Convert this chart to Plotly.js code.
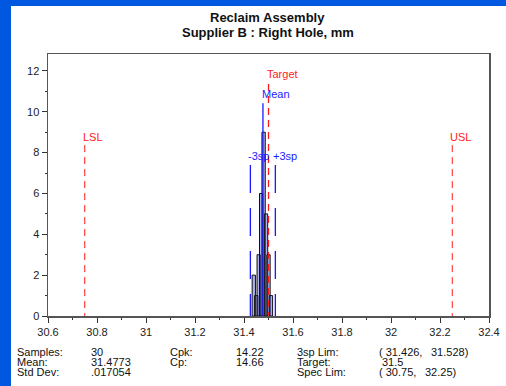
<!DOCTYPE html>
<html>
<head>
<meta charset="utf-8">
<script src="https://cdn.plot.ly/plotly-3.0.1.min.js"></script>
<style>
  html, body { margin: 0; padding: 0; background: #0058e0; width: 506px; height: 386px; overflow: hidden; }
  #chart { position: absolute; left: 11px; top: 6px; width: 495px; height: 380px; background: #fff; }
</style>
</head>
<body>
<div id="chart"></div>
<script>
// ---- data ----
const binCenters = [31.44, 31.45, 31.46, 31.47, 31.48, 31.49, 31.50, 31.51];
const binCounts  = [2, 1, 3, 6, 9, 5, 3, 1];
const samples = 30;
const meanVal = 31.4773;
const stdDev = ".017054";
const cpk = "14.22";
const cp = "14.66";
const lim3sp = [31.426, 31.528];
const targetVal = 31.5;
const specLim = [30.75, 32.25];
const xTickVals = [30.6, 30.8, 31, 31.2, 31.4, 31.6, 31.8, 32, 32.2, 32.4];
const yTickVals = [0, 2, 4, 6, 8, 10, 12];
const titleLines = ["Reclaim Assembly", "Supplier B : Right Hole, mm"];

// ---- helpers: page px -> paper coords ----
const L = 37, R = 17, T = 48, B = 70, W = 495, H = 380;
const PW = W - L - R, PH = H - T - B;
function px(X) { return (X - 11 - L) / PW; }
function py(Y) { return (H - B - (Y - 6)) / PH; }

const FONT = '"Liberation Sans", Arial, sans-serif';
const RED = '#ff1a1a', BLUE = '#1a1aff';

const shapes = [];
const annotations = [];

function vline(x, top, color, dash, width) {
  shapes.push({type: 'line', xref: 'x', yref: 'y', x0: x, x1: x, y0: top, y1: 0,
    line: {color: color, width: width, dash: dash}});
}
function label(x, y, text, color, xshift) {
  annotations.push({xref: 'x', yref: 'y', x: x, y: y, text: text, showarrow: false,
    xanchor: 'left', yanchor: 'middle', xshift: xshift, borderpad: 0, borderwidth: 0,
    font: {family: FONT, size: 11, color: color}});
}

// spec limits
vline(specLim[0], 8.37, RED, '7px,5px', 1);
vline(specLim[1], 8.37, RED, '7px,5px', 1);
label(specLim[0], 8.78, 'LSL', RED, -2);
label(specLim[1], 8.78, 'USL', RED, -2);
// 3sp limits
vline(lim3sp[0], 7.39, BLUE, '28px,15px', 1.3);
vline(lim3sp[1], 7.39, BLUE, '28px,15px', 1.3);
label(lim3sp[0], 7.82, '-3sp', BLUE, -2);
label(lim3sp[1], 7.82, '+3sp', BLUE, -2);
// mean
vline(meanVal, 10.42, BLUE, 'solid', 1.3);
label(meanVal, 10.87, 'Mean', BLUE, -1);
// target
vline(targetVal, 11.36, RED, '7px,5px', 1.3);
label(targetVal, 11.85, 'Target', RED, -2);

// titles
annotations.push({xref: 'paper', yref: 'paper', x: px(267.5), y: py(17.3), text: '<b>' + titleLines[0] + '</b>',
  showarrow: false, xanchor: 'center', yanchor: 'middle', font: {family: FONT, size: 13, color: '#111'}});
annotations.push({xref: 'paper', yref: 'paper', x: px(267.5), y: py(32.7), text: '<b>' + titleLines[1] + '</b>',
  showarrow: false, xanchor: 'center', yanchor: 'middle', font: {family: FONT, size: 13, color: '#111'}});

// stats block
const rowsY = [352.3, 362.3, 372.3];
function stat(X, Y, text, anchor) {
  annotations.push({xref: 'paper', yref: 'paper', x: px(X), y: py(Y), text: text, showarrow: false,
    xanchor: anchor || 'left', yanchor: 'middle', borderpad: 0, borderwidth: 0,
    font: {family: FONT, size: 11, color: '#111'}});
}
const col1 = ['Samples:', 'Mean:', 'Std Dev:'];
const col2 = [String(samples), String(meanVal), stdDev];
const col3 = ['Cpk:', 'Cp:'];
const col4 = [cpk, cp];
const col5 = ['3sp Lim:', 'Target:', 'Spec Lim:'];
col1.forEach((t, i) => stat(17, rowsY[i], t));
col2.forEach((t, i) => stat(91, rowsY[i], t));
col3.forEach((t, i) => stat(170, rowsY[i], t));
col4.forEach((t, i) => stat(263.5, rowsY[i], t, 'right'));
col5.forEach((t, i) => stat(297, rowsY[i], t));
stat(379, rowsY[0], '(\u00a0' + lim3sp[0] + ',');
stat(431, rowsY[0], lim3sp[1] + ')');
stat(381.5, rowsY[1], String(targetVal));
stat(379, rowsY[2], '(\u00a0' + specLim[0] + ',');
stat(425, rowsY[2], specLim[1] + ')');

const trace = {
  type: 'bar', x: binCenters, y: binCounts, width: 0.0135,
  marker: {color: 'rgba(60,70,210,0.42)', line: {color: '#111', width: 1}},
  hoverinfo: 'skip'
};

const axisCommon = {
  showline: true, mirror: true, linecolor: '#555', linewidth: 1.5,
  showgrid: false, zeroline: false, ticks: 'outside', ticklen: 5, tickwidth: 1, tickcolor: '#333',
  tickfont: {family: FONT, size: 11, color: '#222'}
};

const layout = {
  width: W, height: H,
  margin: {l: L, r: R, t: T, b: B, pad: 0},
  paper_bgcolor: '#fff', plot_bgcolor: '#fff',
  showlegend: false,
  bargap: 0,
  xaxis: Object.assign({}, axisCommon, {range: [30.6, 32.4], tickvals: xTickVals,
    ticktext: xTickVals.map(String),
    minor: {ticks: 'outside', dtick: 0.1, tick0: 30.6, ticklen: 2, tickcolor: '#333', showgrid: false}}),
  yaxis: Object.assign({}, axisCommon, {range: [0, 12.83], tickvals: yTickVals,
    minor: {ticks: 'outside', dtick: 1, tick0: 0, ticklen: 2, tickcolor: '#333', showgrid: false}}),
  shapes: shapes,
  annotations: annotations
};

Plotly.newPlot('chart', [trace], layout, {staticPlot: true, displayModeBar: false});
</script>
</body>
</html>
